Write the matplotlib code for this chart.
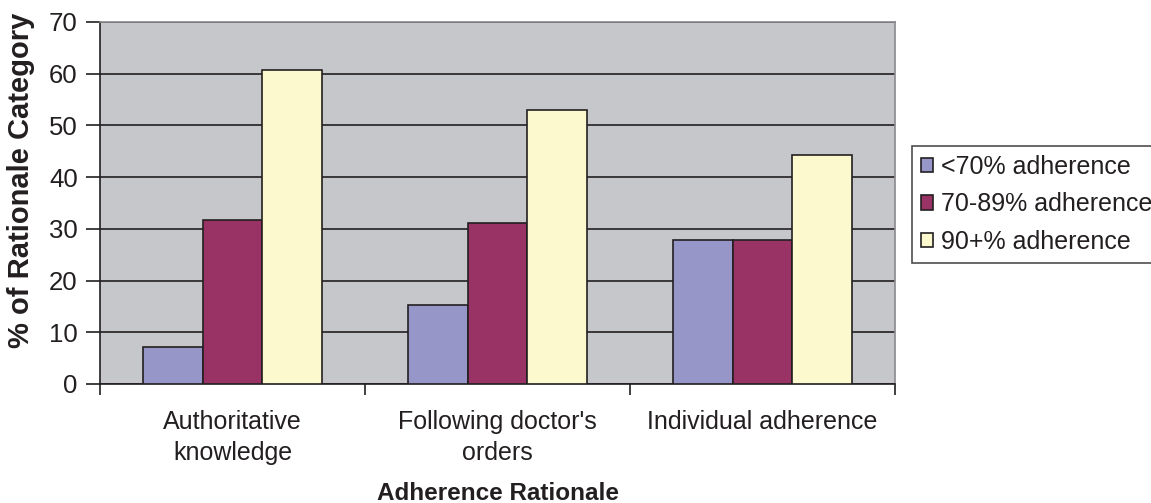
import matplotlib.pyplot as plt
import numpy as np

plt.rcParams['font.family'] = ['Liberation Sans', 'DejaVu Sans']

# data
categories = ['Authoritative\nknowledge', "Following doctor's\norders", 'Individual adherence']
series_names = ['<70% adherence', '70-89% adherence', '90+% adherence']
low = [7.2, 15.3, 27.8]
mid = [31.8, 31.2, 27.8]
high = [60.8, 52.9, 44.2]
yticks = [0, 10, 20, 30, 40, 50, 60, 70]

colors = ['#9696C8', '#993366', '#FCF9CE']
ink = '#231F20'

fig = plt.figure(figsize=(11.51, 5.03), dpi=100)
ax = fig.add_axes([0.0869, 0.2366, 0.6907, 0.7197])
ax.set_facecolor('#C6C7CA')

x = np.arange(len(categories))
w = 0.2245
for i, (vals, name) in enumerate(zip([low, mid, high], series_names)):
    ax.bar(x + (i - 1) * w, vals, w, color=colors[i], edgecolor=ink,
           linewidth=1.2, label=name, zorder=3)

ax.set_xlim(-0.5, len(categories) - 0.5)
ax.set_ylim(0, 70)
ax.set_yticks(yticks)
ax.yaxis.grid(True, color=ink, linewidth=1.2)
ax.set_axisbelow(True)

ax.set_xticks(x)
ax.set_xticklabels(categories, fontsize=18, color=ink, linespacing=1.35)
ax.set_xticks(np.arange(len(categories) + 1) - 0.5, minor=True)
ax.tick_params(axis='x', which='major', length=0, pad=19)
ax.tick_params(axis='x', which='minor', length=8, width=1.2, color=ink, direction='out')
ax.tick_params(axis='y', length=10, width=1.2, color=ink, pad=6,
               labelsize=18.5, labelcolor=ink)

for side in ['left', 'bottom']:
    ax.spines[side].set_color(ink)
    ax.spines[side].set_linewidth(1.2)
for side in ['top', 'right']:
    ax.spines[side].set_color('#8A8A8C')
    ax.spines[side].set_linewidth(1.2)

ax.set_xlabel('Adherence Rationale', fontsize=17.5, fontweight='bold', color=ink, labelpad=12)
ax.set_ylabel('% of Rationale Category', fontsize=21, fontweight='bold', color=ink)
ax.yaxis.set_label_coords(-0.082, 0.5635)

leg = ax.legend(loc='upper left', bbox_to_anchor=(912 / 1151, 1 - 146 / 503),
                bbox_transform=fig.transFigure, fontsize=18, frameon=True,
                fancybox=False, edgecolor=ink, borderpad=0.35, labelspacing=0.55,
                handlelength=0.5, handleheight=0.5, handletextpad=0.3,
                borderaxespad=0)
leg.get_frame().set_linewidth(1.2)
for t in leg.get_texts():
    t.set_color(ink)

fig.savefig('out.png', dpi=100)
